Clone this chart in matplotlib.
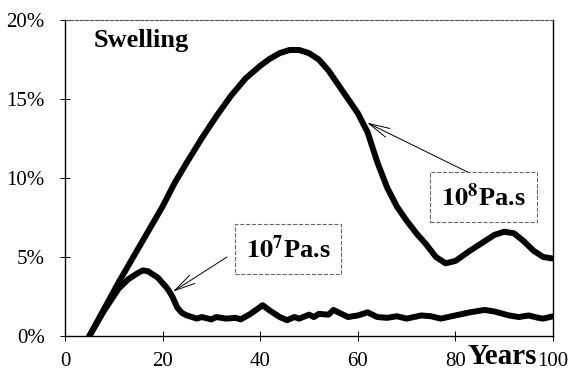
import numpy as np
import matplotlib
matplotlib.use('Agg')
import matplotlib.pyplot as plt
from matplotlib.ticker import FuncFormatter

# swelling (%) vs years
years_8 = [5, 8, 11, 14, 17, 20, 22.5, 25, 28, 31, 34, 37, 40, 42, 44, 46, 48,
           50, 52, 54, 56, 58, 60, 62, 64, 66, 68, 70, 72, 74, 76, 78, 80, 83,
           86, 88, 90, 92, 94, 96, 98, 100]
swell_8 = [0, 1.7, 3.4, 5.0, 6.6, 8.2, 9.7, 11.0, 12.5, 13.9, 15.2, 16.3, 17.1,
           17.55, 17.9, 18.1, 18.1, 17.9, 17.5, 16.8, 15.9, 15.0, 14.1, 12.9,
           11.0, 9.4, 8.2, 7.3, 6.5, 5.8, 5.0, 4.6, 4.75, 5.4, 6.0, 6.4, 6.6,
           6.5, 6.0, 5.4, 5.0, 4.9]

years_7 = [5, 8, 11, 13, 15, 16, 17, 19, 21, 22, 23, 24, 25, 27, 28, 30, 31, 33,
           35, 36, 38, 40.5, 42, 44, 45.5, 47, 48, 50, 51, 52, 54, 55, 57, 58, 60,
           62, 64, 66, 68, 70, 73, 75, 77, 80, 83, 86, 88, 91, 93, 95, 97, 98, 100]
swell_7 = [0, 1.6, 3.0, 3.6, 4.0, 4.15, 4.1, 3.7, 3.0, 2.5, 1.8, 1.45, 1.3, 1.1,
           1.2, 1.05, 1.2, 1.1, 1.15, 1.05, 1.4, 1.95, 1.6, 1.2, 1.0, 1.2, 1.1,
           1.35, 1.2, 1.4, 1.35, 1.65, 1.35, 1.2, 1.3, 1.5, 1.2, 1.15, 1.25, 1.1,
           1.3, 1.25, 1.1, 1.3, 1.5, 1.65, 1.55, 1.3, 1.2, 1.3, 1.15, 1.1, 1.25]

x_ticks = [0, 20, 40, 60, 80, 100]
y_ticks = [0, 5, 10, 15, 20]

plt.rcParams['font.family'] = ['Liberation Serif', 'DejaVu Serif']
plt.rcParams['mathtext.fontset'] = 'stix'

fig = plt.figure(figsize=(5.71, 3.74), dpi=100)
ax = fig.add_axes([0.1138, 0.1016, 0.8547, 0.845])

for xs, ys in [(years_8, swell_8), (years_7, swell_7)]:
    ax.plot(xs, ys, color='black', lw=4.3, solid_capstyle='round',
            solid_joinstyle='round')

ax.set_xlim(0, 100)
ax.set_ylim(0, 20)
ax.set_xticks(x_ticks)
ax.set_yticks(y_ticks)
ax.set_xticklabels(['0', '20', '40', '60', '80', '100'])
ax.yaxis.set_major_formatter(FuncFormatter(lambda v, p: f'{v:.0f}%'))
ax.tick_params(axis='both', labelsize=15, direction='inout', length=7, width=0.7)
ax.tick_params(axis='x', pad=8)
ax.tick_params(axis='y', pad=11)

for s in ['left', 'right', 'bottom']:
    ax.spines[s].set_linewidth(1.0)
ax.spines['top'].set_linestyle((0, (3, 1.5)))
ax.spines['top'].set_linewidth(0.8)
ax.spines['top'].set_color('#555555')

ax.text(5.8, 18.7, 'Swelling', fontsize=19, fontweight='bold', va='center')
ax.text(89.5, -1.3, 'Years', fontsize=21, fontweight='bold', ha='center',
        va='center', clip_on=False)

box = dict(boxstyle='square,pad=0.42', fc='white', ec='#666666', lw=0.8, ls='--')
arrow = dict(arrowstyle='->,head_length=1.5,head_width=0.35', lw=0.7,
             color='black', mutation_scale=10, shrinkA=0, shrinkB=0)

ax.annotate('', xy=(61.9, 13.5), xytext=(83.0, 10.3), arrowprops=arrow)
ax.text(85.7, 8.8, r'$\mathbf{10^{8}}$Pa.s', fontsize=19, fontweight='bold',
        ha='center', va='center', bbox=box)

ax.annotate('', xy=(22.1, 2.8), xytext=(33.2, 5.0), arrowprops=arrow)
ax.text(45.7, 5.5, r'$\mathbf{10^{7}}$Pa.s', fontsize=19, fontweight='bold',
        ha='center', va='center', bbox=box)

fig.savefig('out.png', dpi=100)
